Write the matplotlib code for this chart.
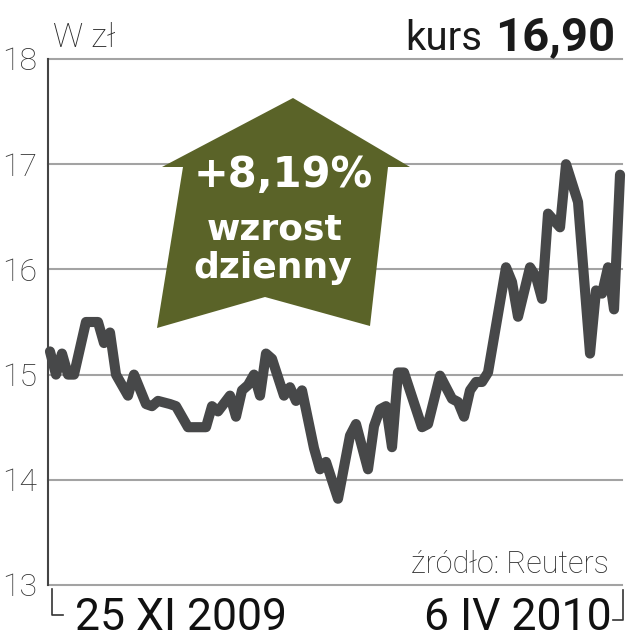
import matplotlib
matplotlib.use("Agg")
import matplotlib.pyplot as plt
from matplotlib.patches import Polygon
from matplotlib.lines import Line2D

plt.rcParams['font.family'] = ['Roboto', 'DejaVu Sans']

# trading day index (25 XI 2009 = 0) and closing price in zl
days = [0, 1, 2, 3, 4, 6, 8, 9, 10, 11, 13, 14, 16, 17, 18, 20, 21, 23, 26, 27,
        28, 30, 31, 32, 33, 34, 35, 36, 37, 39, 40, 41, 42, 44, 45, 46, 48, 50, 51, 53,
        54, 55, 56, 57, 58, 59, 62, 63, 65, 67, 68, 69, 70, 71, 72, 73, 76, 77, 78, 80,
        81, 82, 83, 85, 86, 88, 90, 91, 92, 93, 94, 95]
prices = [15.22, 15.0, 15.2, 15.0, 15.0, 15.5, 15.5, 15.3, 15.4, 15.0,
          14.8, 15.0, 14.72, 14.7, 14.75, 14.72, 14.7, 14.5, 14.5, 14.7,
          14.65, 14.8, 14.6, 14.85, 14.9, 15.0, 14.8, 15.2, 15.15, 14.8,
          14.88, 14.75, 14.85, 14.3, 14.1, 14.17, 13.82, 14.42, 14.53, 14.1,
          14.51, 14.67, 14.7, 14.31, 15.02, 15.02, 14.5, 14.53, 14.99, 14.77,
          14.74, 14.6, 14.85, 14.93, 14.93, 15.02, 16.02, 15.88, 15.55, 16.02,
          15.93, 15.72, 16.53, 16.4, 17.0, 16.64, 15.2, 15.8, 15.77, 16.02,
          15.62, 16.9]
yticks = [13, 14, 15, 16, 17, 18]
start_label = "25 XI 2009"
end_label = "6 IV 2010"
last_price = "16,90"
change = "+8,19%"

W, H = 627, 640
fig = plt.figure(figsize=(W / 100, H / 100), dpi=100)

# helpers: pixel coords (from top-left) -> figure fraction
def fx(px):
    return px / W

def fy(py):
    return 1 - py / H

ax = fig.add_axes([fx(48), fy(585), (622 - 48) / W, (585 - 59) / H])
ax.set_xlim(-0.33, 95.33)
ax.set_ylim(13, 18)

for v in yticks:
    ax.axhline(v, color='#a3a3a3', lw=1.5, zorder=1, clip_on=False)

ax.plot(days, prices, color='#474849', lw=7.3, solid_joinstyle='round',
        solid_capstyle='round', zorder=5, clip_on=False)

for s in ['top', 'right', 'bottom']:
    ax.spines[s].set_visible(False)
ax.spines['left'].set_color('#444444')
ax.spines['left'].set_linewidth(1.5)
ax.set_xticks([])
ax.set_yticks(yticks)
ax.set_yticklabels([str(v) for v in yticks], fontsize=23, fontweight='light',
                   color='#333333')
ax.tick_params(axis='y', length=0, pad=8)

# green arrow
arrow_px = [(293, 98), (410, 167), (388, 167), (370, 326), (265, 297),
            (157, 328), (183, 167), (162, 167)]
arrow = Polygon([(fx(x), fy(y)) for x, y in arrow_px], closed=True,
                transform=fig.transFigure, facecolor='#5a6328', edgecolor='none',
                zorder=3, clip_on=False)
ax.add_patch(arrow)

box_font = ['DejaVu Sans']
ax.text(fx(283), fy(187), change, transform=fig.transFigure, ha='center',
        va='baseline', fontsize=30, fontweight='bold', color='white', zorder=4,
        family=box_font)
ax.text(fx(275), fy(240), "wzrost", transform=fig.transFigure, ha='center',
        va='baseline', fontsize=26, fontweight='bold', color='white', zorder=4,
        family=box_font)
ax.text(fx(273), fy(278), "dzienny", transform=fig.transFigure, ha='center',
        va='baseline', fontsize=26, fontweight='bold', color='white', zorder=4,
        family=box_font)

# header
fig.text(fx(53), fy(47), "W zł", fontsize=24, fontweight='light', color='#2a2a2a',
         va='baseline')
fig.text(fx(482), fy(50), "kurs", fontsize=29, color='#1a1a1a', ha='right',
         va='baseline')
fig.text(fx(615), fy(50), last_price, fontsize=34, fontweight='bold', color='#1a1a1a',
         ha='right', va='baseline')

# footer
fig.text(fx(609), fy(573), "źródło: Reuters", fontsize=22, fontweight='light',
         color='#2a2a2a', ha='right', va='baseline')
fig.text(fx(75), fy(630), start_label, fontsize=32, fontweight='normal',
         color='#111111', va='baseline')
fig.text(fx(612), fy(630), end_label, fontsize=32, fontweight='normal',
         color='#111111', ha='right', va='baseline')

fig.add_artist(Line2D([fx(52), fx(52), fx(63)], [fy(589), fy(615), fy(615)],
                      transform=fig.transFigure, color='#333333', lw=1.2))
fig.add_artist(Line2D([fx(613), fx(623), fx(623)], [fy(620), fy(620), fy(590)],
                      transform=fig.transFigure, color='#333333', lw=1.2))

fig.savefig("out.png", dpi=100)
